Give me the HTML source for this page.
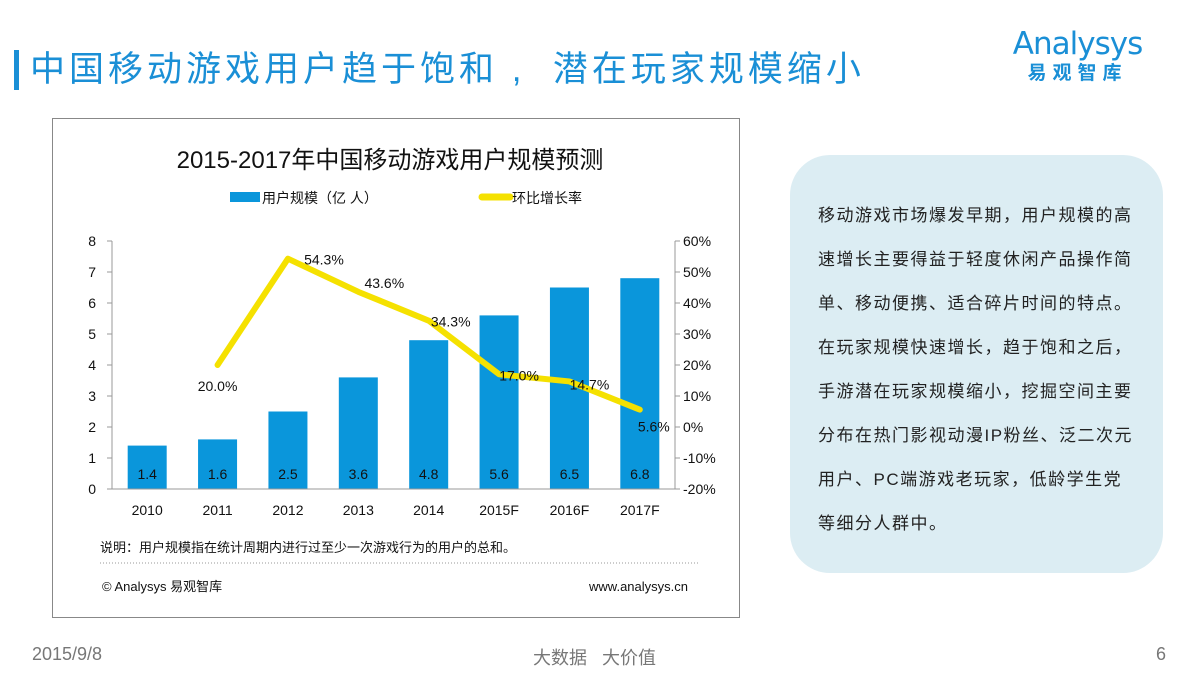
<!DOCTYPE html>
<html><head><meta charset="utf-8"><style>
body{margin:0;width:1200px;height:675px;background:#fff;position:relative;overflow:hidden;font-family:"Liberation Sans","Noto Sans CJK SC",sans-serif}
.abs{position:absolute}
</style></head><body>
<div class="abs" style="left:14px;top:50px;width:5px;height:40px;background:#1a8fd6"></div>
<div class="abs" style="left:30px;top:46px;font-size:35px;color:#1a8fd6;line-height:48px;white-space:nowrap;letter-spacing:4px">中国移动游戏用户趋于饱和&nbsp;,&nbsp;&nbsp;潜在玩家规模缩小</div>
<div class="abs" style="left:990px;top:26px;width:175px;text-align:center">
<div style="font-size:31px;color:#1a8fd6;line-height:36px;font-family:'DejaVu Sans',sans-serif;letter-spacing:-1px">Analysys</div>
<div style="font-size:19px;color:#1a8fd6;font-weight:bold;letter-spacing:6px;line-height:24px">易观智库</div></div>
<div class="abs" style="left:52px;top:118px;width:688px;height:500px;border:1px solid #888;box-sizing:border-box"></div>
<svg class="abs" style="left:0;top:0" width="1200" height="675" font-family="Liberation Sans, Noto Sans CJK SC, sans-serif">
<text x="390" y="168" font-size="24" text-anchor="middle" fill="#111">2015-2017年中国移动游戏用户规模预测</text>
<rect x="230" y="192" width="30" height="10" fill="#0a96db"/>
<text x="262" y="203" font-size="14" fill="#111">用户规模（亿 人）</text>
<line x1="482" y1="197" x2="510" y2="197" stroke="#f5e100" stroke-width="7" stroke-linecap="round"/>
<text x="512" y="203" font-size="14" fill="#111">环比增长率</text>
<g id="plot"></g>
<text x="100" y="552" font-size="13" fill="#111">说明：用户规模指在统计周期内进行过至少一次游戏行为的用户的总和。</text>
<line x1="100" y1="563" x2="698" y2="563" stroke="#999" stroke-dasharray="1,2"/>
<text x="102" y="591" font-size="13" fill="#111">© Analysys 易观智库</text>
<text x="688" y="591" font-size="13" fill="#111" text-anchor="end">www.analysys.cn</text>
</svg>
<div class="abs" style="left:790px;top:155px;width:373px;height:418px;background:#dcedf3;border-radius:40px"></div>
<div class="abs" style="left:818px;top:194px;width:345px;font-size:17px;line-height:44px;color:#222;letter-spacing:1.5px;white-space:nowrap">移动游戏市场爆发早期，用户规模的高<br>速增长主要得益于轻度休闲产品操作简<br>单、移动便携、适合碎片时间的特点。<br>在玩家规模快速增长，趋于饱和之后，<br>手游潜在玩家规模缩小，挖掘空间主要<br>分布在热门影视动漫IP粉丝、泛二次元<br>用户、PC端游戏老玩家，低龄学生党<br>等细分人群中。</div>
<div class="abs" style="left:32px;top:644px;font-size:18px;color:#777">2015/9/8</div>
<div class="abs" style="left:533px;top:644px;font-size:18px;color:#777;white-space:pre">大数据   大价值</div>
<div class="abs" style="left:1156px;top:644px;font-size:18px;color:#777">6</div>
<script>
const categories=["2010","2011","2012","2013","2014","2015F","2016F","2017F"];
const users=[1.4,1.6,2.5,3.6,4.8,5.6,6.5,6.8];
const growth=[null,20.0,54.3,43.6,34.3,17.0,14.7,5.6];
const leftTicks=[0,1,2,3,4,5,6,7,8];
const rightTicks=[-20,-10,0,10,20,30,40,50,60];
const NS="http://www.w3.org/2000/svg";
const g=document.getElementById('plot');
const x0=112,x1=675,yb=489,yt=241;
const yL=v=>yb-(v-0)/8*(yb-yt);
const yR=v=>yb-(v+20)/80*(yb-yt);
const step=(x1-x0)/categories.length;
const xc=i=>x0+step*(i+0.5);
function mk(t,a,txt){const e=document.createElementNS(NS,t);for(const k in a)e.setAttribute(k,a[k]);if(txt!=null)e.textContent=txt;g.appendChild(e);return e;}
leftTicks.forEach(v=>{const t=mk('text',{x:96,y:yL(v)+5,'font-size':14,'text-anchor':'end',fill:'#111'},v);


mk('line',{x1:x0-5,x2:x0,y1:yL(v),y2:yL(v),stroke:'#999'});});
rightTicks.forEach(v=>{const t=mk('text',{x:683,y:yR(v)+5,'font-size':14,fill:'#111'},v+'%');


mk('line',{x1:x1,x2:x1+5,y1:yR(v),y2:yR(v),stroke:'#999'});});
mk('line',{x1:x0,x2:x0,y1:yt,y2:yb,stroke:'#999'});
mk('line',{x1:x1,x2:x1,y1:yt,y2:yb,stroke:'#999'});
users.forEach((v,i)=>{const r=mk('rect',{x:xc(i)-19.5,y:yL(v),width:39,height:yb-yL(v),fill:'#0a96db'});


const t=mk('text',{x:xc(i),y:yb-10,'font-size':14,'text-anchor':'middle',fill:'#111'},v.toFixed(1));


const c=mk('text',{x:xc(i),y:515,'font-size':14,'text-anchor':'middle',fill:'#111'},categories[i]);

});
mk('line',{x1:x0,x2:x1,y1:yb,y2:yb,stroke:'#999'});
let d='';growth.forEach((v,i)=>{if(v==null)return;d+=(d?'L':'M')+xc(i)+','+yR(v);});
const p=mk('path',{d:d,fill:'none',stroke:'#f5e100','stroke-width':6,'stroke-linejoin':'round','stroke-linecap':'round'});


const off=[null,[0,26],[36,6],[26,-4],[22,6],[20,6],[20,8],[14,22]];
growth.forEach((v,i)=>{if(v==null)return;const t=mk('text',{x:xc(i)+off[i][0],y:yR(v)+off[i][1],'font-size':14,'text-anchor':'middle',fill:'#111'},v.toFixed(1)+'%');

});
</script>
</body></html>
